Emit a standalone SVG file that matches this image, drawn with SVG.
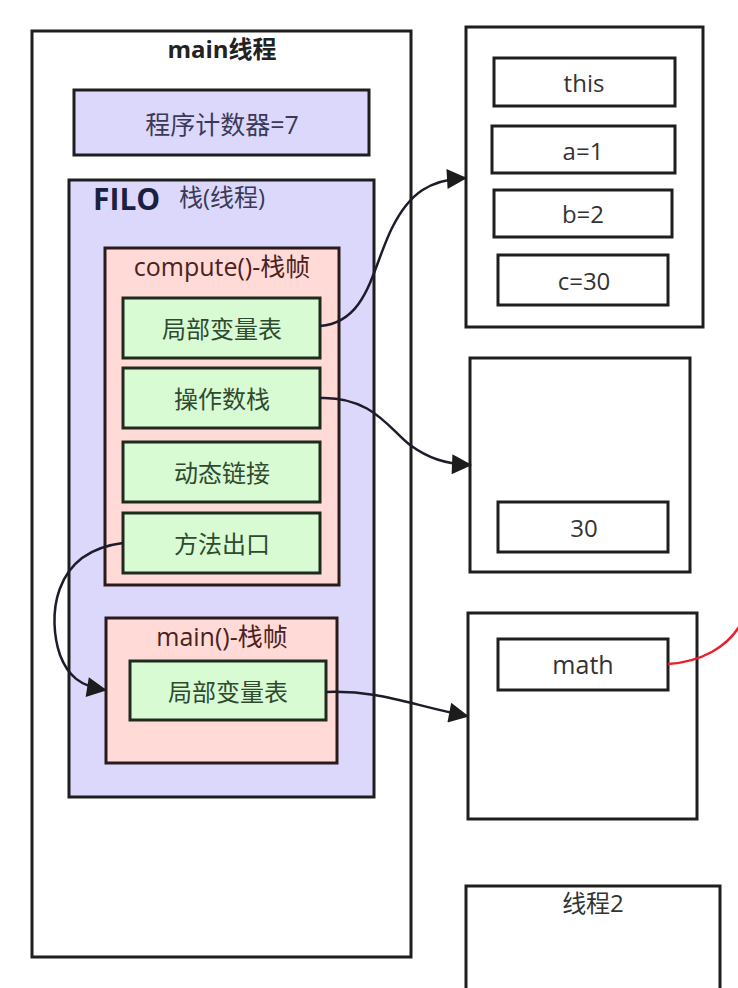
<svg xmlns="http://www.w3.org/2000/svg" width="738" height="988" viewBox="0 0 738 988">
<defs>
<style>
.box{fill:#fff;stroke:#1e1e1e;stroke-width:3}
.lav{fill:#dcd8fc;stroke:#1e1e1e;stroke-width:3}
.pink{fill:#ffdad7;stroke:#2a1a1a;stroke-width:3}
.green{fill:#d9fbd3;stroke:#1e2a1e;stroke-width:3}
.t{font-family:"Open Sans","Noto Sans CJK SC",sans-serif;font-size:24px;text-anchor:middle;dominant-baseline:central;fill:#333}
.tg{fill:#2f4a2f}
.tp{fill:#4a2222}
.tl{fill:#3a3a58}
.conn{fill:none;stroke:#1c1c2a;stroke-width:2.5}
</style>
<marker id="arrB" viewBox="0 0 10 10" refX="9" refY="5" markerWidth="24" markerHeight="20" markerUnits="userSpaceOnUse" orient="auto">
<path d="M0,0 L10,5 L0,10 z" fill="#1c1c1c"/>
</marker>
</defs>
<rect width="738" height="988" fill="#fff"/>

<g id="main-thread">
<rect class="box" x="32" y="31" width="379" height="926"/>
<text class="t" x="222" y="48" style="font-weight:bold;fill:#222">main线程</text>
</g>
<g id="pc">
<rect class="lav" x="74" y="90" width="295" height="65"/>
<text class="t tl" x="222" y="124" style="font-size:25px">程序计数器=7</text>
</g>
<g id="stack">
<rect class="lav" x="69" y="180" width="305" height="617"/>
<text x="93" y="210" style="font-family:'Open Sans',sans-serif;font-weight:bold;font-size:30px;fill:#1a2040">FILO</text>
<text class="t tl" x="222" y="196">栈(线程)</text>
</g>
<g id="compute-frame">
<rect class="pink" x="105" y="248" width="234" height="337"/>
<text class="t tp" x="222" y="266" style="font-size:25px">compute()-栈帧</text>
</g>
<g id="local-vars">
<rect class="green" x="123" y="298" width="197" height="60"/>
<text class="t tg" x="222" y="328">局部变量表</text>
</g>
<g id="operand-stack">
<rect class="green" x="123" y="368" width="197" height="60"/>
<text class="t tg" x="222" y="398">操作数栈</text>
</g>
<g id="dynamic-link">
<rect class="green" x="123" y="442" width="197" height="60"/>
<text class="t tg" x="222" y="472">动态链接</text>
</g>
<g id="method-exit">
<rect class="green" x="123" y="513" width="197" height="60"/>
<text class="t tg" x="222" y="543">方法出口</text>
</g>
<g id="main-frame">
<rect class="pink" x="106" y="618" width="231" height="145"/>
<text class="t tp" x="222" y="636" style="font-size:25px">main()-栈帧</text>
</g>
<g id="main-local-vars">
<rect class="green" x="130" y="661" width="196" height="59"/>
<text class="t tg" x="228" y="691">局部变量表</text>
</g>

<g id="heap-1">
<rect class="box" x="466" y="27" width="237" height="300"/>
</g>
<g id="this"><rect class="box" x="494" y="58" width="181" height="48"/><text class="t" x="584" y="82">this</text></g>
<g id="a"><rect class="box" x="492" y="126" width="183" height="47"/><text class="t" x="583" y="150">a=1</text></g>
<g id="b"><rect class="box" x="494" y="190" width="178" height="47"/><text class="t" x="583" y="213">b=2</text></g>
<g id="c"><rect class="box" x="498" y="255" width="170" height="50"/><text class="t" x="584" y="280">c=30</text></g>

<g id="heap-2">
<rect class="box" x="470" y="358" width="220" height="214"/>
</g>
<g id="v30"><rect class="box" x="498" y="502" width="170" height="50"/><text class="t" x="584" y="527">30</text></g>

<g id="heap-3">
<rect class="box" x="468" y="613" width="229" height="206"/>
</g>
<g id="math"><rect class="box" x="498" y="639" width="170" height="51"/><text class="t" x="583" y="664" style="font-size:25px">math</text></g>

<g id="thread2">
<rect class="box" x="466" y="886" width="254" height="120"/>
<text class="t" x="593" y="902">线程2</text>
</g>

<g id="connectors">
<path class="conn" d="M320,326 C368,322 372,268 392,228 C410,192 430,180 465,178" marker-end="url(#arrB)"/>
<path class="conn" d="M320,398 C372,396 390,430 410,445 C428,458 445,464 470,465" marker-end="url(#arrB)"/>
<path class="conn" d="M123,543 C50,552 48,620 60,655 C68,676 80,686 105,690" marker-end="url(#arrB)"/>
<path class="conn" d="M326,692 C380,690 410,705 467,716" marker-end="url(#arrB)"/>
<path d="M668,664 C700,662 728,648 742,622" fill="none" stroke="#e8202a" stroke-width="2.5"/>
</g>
</svg>
